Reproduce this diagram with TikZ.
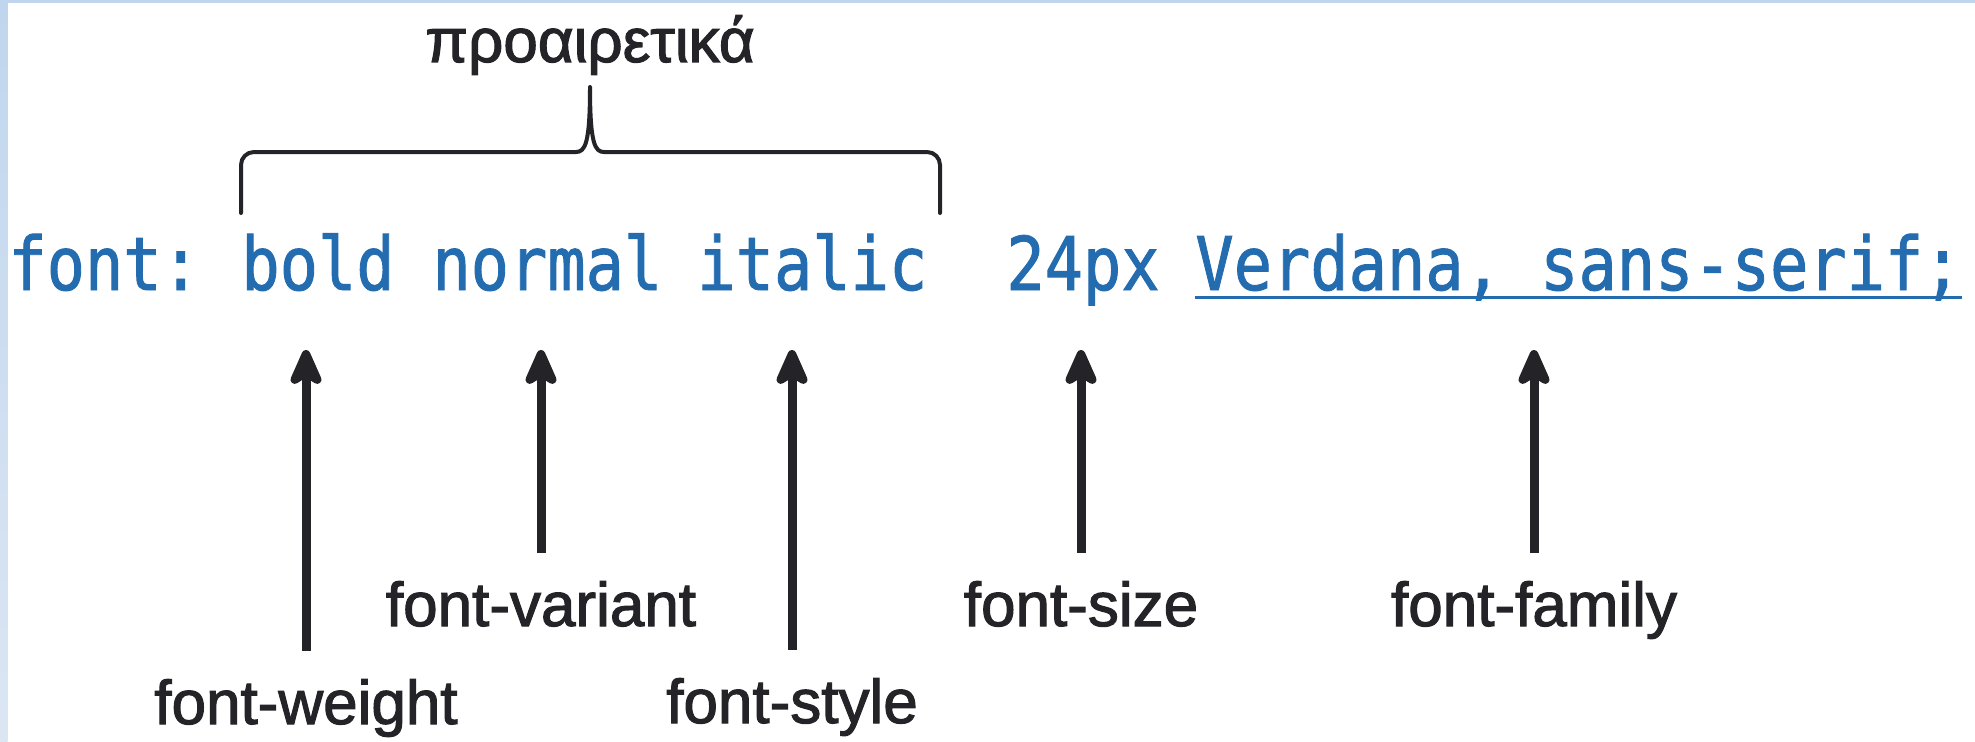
\documentclass[tikz,border=0pt]{standalone}
\usepackage{fontspec}
\setmainfont{Liberation Sans}
\newfontfamily\codefont[FakeStretch=0.86,FakeBold=1.2]{DejaVu Sans Mono}
\newfontfamily\lblfont[FakeBold=1.8]{Liberation Sans}
\usetikzlibrary{arrows.meta}
\definecolor{codeblue}{RGB}{36,108,176}
\definecolor{ink}{RGB}{35,35,40}
\definecolor{bandtop}{RGB}{192,214,238}
\definecolor{bandbot}{RGB}{220,230,243}
\begin{document}
\begin{tikzpicture}[x=0.5pt,y=0.5pt,
  code/.style={font=\codefont\fontsize{37}{44}\selectfont, text=codeblue, anchor=base west, inner sep=0pt},
  lbl/.style={font=\lblfont\fontsize{31}{37}\selectfont, text=ink, anchor=base, inner sep=0pt},
  arr/.style={draw=ink, line width=4.5pt, -{Stealth[length=23pt,width=20pt,inset=6pt,round]}, shorten <=14pt},
  bracepath/.style={draw=ink, line width=2pt, line cap=round, line join=round},
  uline/.style={draw=codeblue, line width=1.5pt}]
\useasboundingbox (0,0) rectangle (1975,741);
\fill[white] (0,0) rectangle (1975,741);
\shade[top color=bandtop, bottom color=bandbot] (0,0) rectangle (7.5,741);
\fill[bandtop] (0,737.5) rectangle (1975,741);

% title
\node[lbl] (opt) at (590,679) {προαιρετικά};

% brace
\draw[bracepath] (241,528) -- (241,576) to[out=90,in=180] (254,589) -- (576,589)
  .. controls (585,589) and (590,597) .. (590,654)
  .. controls (590,597) and (595,589) .. (604,589) -- (927,589)
  to[out=0,in=90] (940,576) -- (940,528);

% code line
\node[code] (kw)   at (8,451)    {font:};
\node[code] (bold) at (241,451)  {bold};
\node[code] (norm) at (432,451)  {normal};
\node[code] (ital) at (697,451)  {italic};
\node[code] (size) at (1006,451) {24px};
\node[code] (fam)  at (1195,451) {Verdana, sans-serif;};
\draw[uline] ([yshift=-3.5pt]fam.base west) -- ([yshift=-3.5pt]fam.base east);

% arrow tips
\coordinate (tw) at (306,391);
\coordinate (tv) at (541,391);
\coordinate (ts) at (792,391);
\coordinate (tz) at (1081,391);
\coordinate (tf) at (1534,391);

% labels
\node[lbl] (lw) at (306,17)  {font-weight};
\node[lbl] (lv) at (541,115) {font-variant};
\node[lbl] (ls) at (792,18)  {font-style};
\node[lbl] (lz) at (1081,115) {font-size};
\node[lbl] (lf) at (1534,115) {font-family};

\draw[arr] (lw.north) -- (tw);
\draw[arr] (lv.north) -- (tv);
\draw[arr] (ls.north) -- (ts);
\draw[arr] (lz.north) -- (tz);
\draw[arr] (lf.north) -- (tf);
\end{tikzpicture}
\end{document}
